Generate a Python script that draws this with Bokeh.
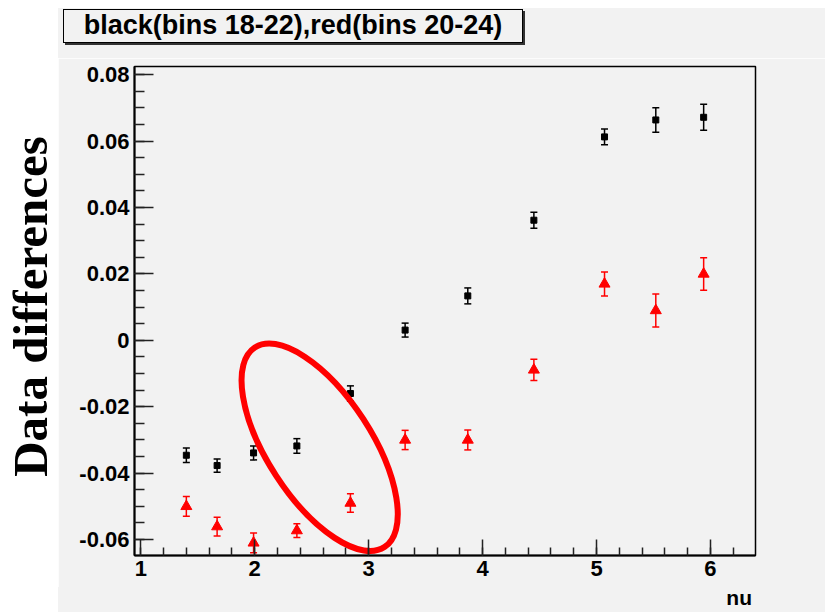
import math
import numpy as np
from bokeh.plotting import figure
from bokeh.models import (ColumnDataSource, Whisker, TeeHead, Range1d,
                          FixedTicker, Spacer, Div)
from bokeh.core.properties import value
from bokeh.layouts import row, column
from bokeh.embed import file_html
from bokeh.resources import INLINE

# ---------------- data ----------------
nu = [1.40, 1.67, 1.99, 2.37, 2.84, 3.32, 3.87, 4.45, 5.07, 5.52, 5.94]
black_vals = [-0.0346, -0.0377, -0.0339, -0.0318, -0.0160, 0.0031, 0.0134, 0.0362, 0.0613, 0.0664, 0.0672]
black_errs = [0.0022, 0.0020, 0.0021, 0.0022, 0.0023, 0.0021, 0.0024, 0.0024, 0.0024, 0.0037, 0.0039]
red_vals = [-0.0500, -0.0561, -0.0610, -0.0573, -0.0490, -0.0300, -0.0300, -0.0089, 0.0170, 0.0090, 0.0200]
red_errs = [0.0030, 0.0028, 0.0030, 0.0021, 0.0028, 0.0029, 0.0030, 0.0032, 0.0036, 0.0050, 0.0049]

x_tick_values = [1, 2, 3, 4, 5, 6]
x_tick_labels = ["1", "2", "3", "4", "5", "6"]
y_tick_values = [-0.06, -0.04, -0.02, 0, 0.02, 0.04, 0.06, 0.08]
y_tick_labels = ["-0.06", "-0.04", "-0.02", "0", "0.02", "0.04", "0.06", "0.08"]

title_text = "black(bins 18-22),red(bins 20-24)"
x_title = "nu"
y_title = "Data differences"

# hand-drawn highlight ellipse (annotation)
ellipse_x = [2.57]
ellipse_y = [-0.0322]
ellipse_w = [238]
ellipse_h = [104]
ellipse_angle = [-math.radians(57)]

# ---------------- style / layout ----------------
BG = "#f2f2f2"
FONT = "Liberation Sans"
W = 767                      # width of the grey canvas part
TITLE_H = 50                 # title strip (page y 8..58)
MAIN_H = 529                 # plot (page y 58..587)
NU_H = 25                    # x-title strip (page y 587..612)

# title strip: ROOT-style pave with a drop shadow
title_div = Div(
    width=W, height=TITLE_H,
    styles={"background-color": BG, "margin": "0", "padding": "0"},
    text=(f'<div style="box-sizing:border-box; margin:1px 0 0 5px; width:460px; height:34px;'
          f' border:1.5px solid black; box-shadow:2px 2px 0 #333333; background:{BG};'
          f' font-family:\'{FONT}\'; font-weight:bold; font-size:27px; line-height:31px;'
          f' text-align:center; color:black; white-space:nowrap;">{title_text}</div>'))

# main plot
black_src = ColumnDataSource(dict(
    x=nu, y=black_vals,
    upper=[v + e for v, e in zip(black_vals, black_errs)],
    lower=[v - e for v, e in zip(black_vals, black_errs)]))
red_src = ColumnDataSource(dict(
    x=nu, y=red_vals,
    upper=[v + e for v, e in zip(red_vals, red_errs)],
    lower=[v - e for v, e in zip(red_vals, red_errs)]))

p = figure(width=W, height=MAIN_H, output_backend="svg", toolbar_location=None,
           x_range=Range1d(0.945, 6.395), y_range=Range1d(-0.0648, 0.0825),
           min_border_left=76, min_border_right=70, min_border_top=8,
           min_border_bottom=32)
p.background_fill_color = BG
p.border_fill_color = BG
p.outline_line_color = "black"
p.outline_line_width = 1.5
p.xgrid.visible = False
p.ygrid.visible = False

for ax in (p.xaxis[0], p.yaxis[0]):
    ax.axis_line_color = "black"
    ax.axis_line_width = 2
    ax.major_tick_line_color = "#222222"
    ax.minor_tick_line_color = "#222222"
    ax.major_tick_line_width = 1.5
    ax.minor_tick_line_width = 1.5
    ax.major_tick_out = 0
    ax.minor_tick_out = 0
    ax.major_label_text_font = FONT
    ax.major_label_text_font_style = "bold"
    ax.major_label_text_font_size = "22px"
    ax.major_label_text_color = "black"

p.xaxis[0].ticker = FixedTicker(ticks=x_tick_values,
                                minor_ticks=list(np.round(np.arange(1.0, 6.41, 0.2), 3)))
p.xaxis[0].major_label_overrides = dict(zip(x_tick_values, x_tick_labels))
p.xaxis[0].major_tick_in = 16
p.xaxis[0].minor_tick_in = 8
p.xaxis[0].major_label_standoff = 5

p.yaxis[0].ticker = FixedTicker(ticks=y_tick_values,
                                minor_ticks=list(np.round(np.arange(-0.065, 0.0826, 0.005), 4)))
p.yaxis[0].major_label_overrides = dict(zip(y_tick_values, y_tick_labels))
p.yaxis[0].major_tick_in = 19
p.yaxis[0].minor_tick_in = 10
p.yaxis[0].major_label_standoff = 5

for src, col in ((black_src, "black"), (red_src, "#ff0000")):
    w = Whisker(source=src, base="x", upper="upper", lower="lower", dimension="height",
                line_color=col, line_width=1.5,
                upper_head=TeeHead(size=7, line_color=col, line_width=1.5),
                lower_head=TeeHead(size=7, line_color=col, line_width=1.5))
    p.add_layout(w)

p.scatter("x", "y", source=black_src, marker="square", size=6, color="black")
p.scatter("x", "y", source=red_src, marker="triangle", size=11, color="#ff0000")

p.ellipse(x=ellipse_x, y=ellipse_y, width=ellipse_w, height=ellipse_h, angle=ellipse_angle,
          width_units="screen", height_units="screen", fill_alpha=0,
          line_color="#ff0000", line_width=6)

# x-title strip ("nu" right-aligned under the axis end)
nu_div = Div(
    width=W, height=NU_H,
    styles={"background-color": BG, "margin": "0", "padding": "0"},
    text=(f'<div style="box-sizing:border-box; width:{W}px; padding-right:73px;'
          f' font-family:\'{FONT}\'; font-weight:bold; font-size:21px; line-height:22px;'
          f' text-align:right; color:black;">{x_title}</div>'))

# left white strip with the big serif y-title
q = figure(width=58, height=612, output_backend="svg", toolbar_location=None,
           x_range=Range1d(0, 58), y_range=Range1d(0, 612),
           min_border=0, min_border_left=0, min_border_right=0,
           min_border_top=0, min_border_bottom=0)
q.axis.visible = False
q.grid.visible = False
q.outline_line_color = None
q.background_fill_color = "white"
q.border_fill_color = "white"
q.text(x=[30], y=[306], text=[y_title], angle=math.pi / 2,
       text_font=value("Liberation Serif"), text_font_style="bold",
       text_font_size="49px", text_align="center", text_baseline="middle",
       text_color="black")

layout = row(q, column(Spacer(width=W, height=8), title_div, p, nu_div))
open("out.html", "w").write(file_html(layout, INLINE))
